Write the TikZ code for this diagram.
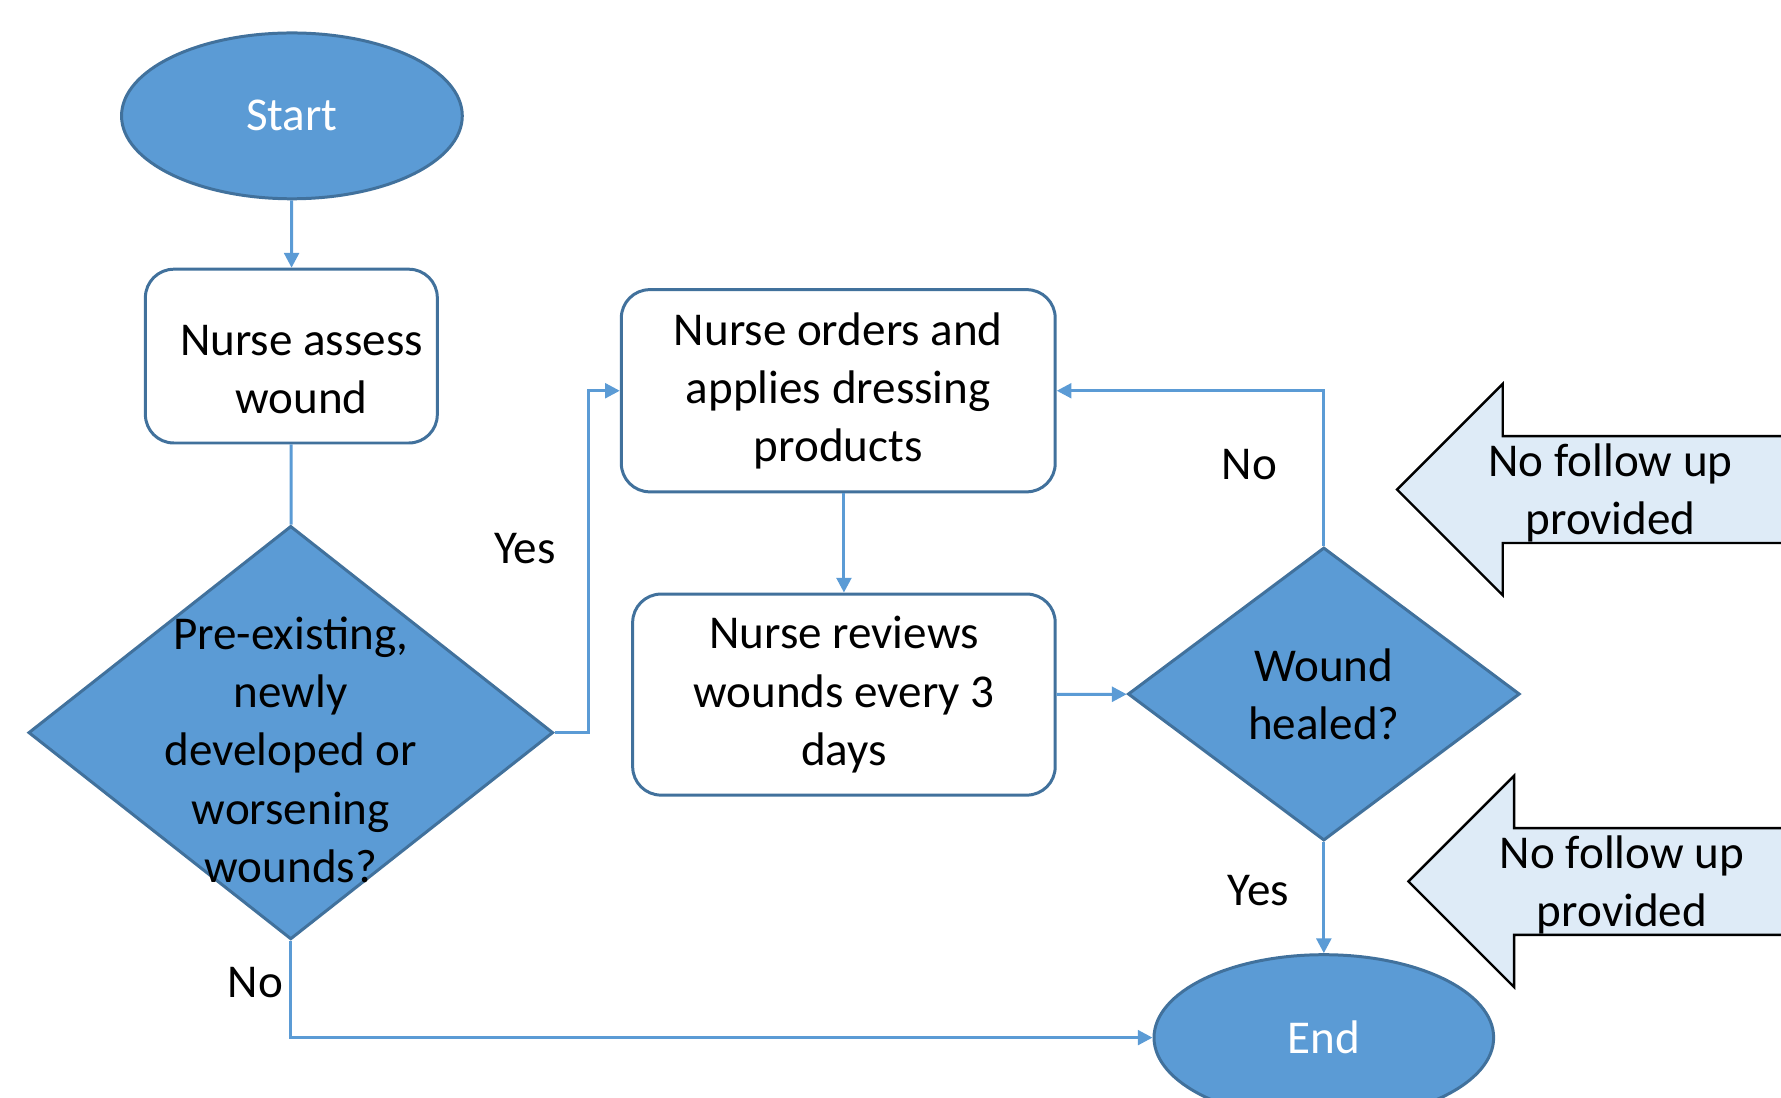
\documentclass[tikz,border=0pt]{standalone}
\usepackage{fontspec}
\setmainfont{Carlito}
\usetikzlibrary{arrows.meta,shapes.geometric}
\definecolor{flowblue}{HTML}{5B9BD5}
\definecolor{flowedge}{HTML}{41719C}
\definecolor{calloutfill}{HTML}{DEEBF7}

\begin{document}
\begin{tikzpicture}[
  font=\fontsize{11.8}{14.6}\selectfont, >={Triangle[length=1.3mm,width=1.3mm]},
  term/.style={ellipse, draw=flowedge, line width=0.75pt, fill=flowblue, text=white,
               minimum width=3cm, minimum height=1.46cm},
  proc/.style={draw=flowedge, line width=0.75pt, rounded corners=0.25cm, fill=white,
               align=center, inner sep=2pt},
  decide/.style={diamond, draw=flowedge, line width=0.75pt, fill=flowblue, align=center, inner sep=0pt},
  callout/.style={draw=black, line width=0.6pt, fill=calloutfill},
  plain/.style={align=center, inner sep=0pt},
  arr/.style={->, draw=flowblue, line width=0.75pt},
  link/.style={draw=flowblue, line width=0.75pt}]
  \useasboundingbox (0,0) rectangle (15.68,-9.66);
  \clip (0,0) rectangle (15.68,-9.66);
  \node[term] (start) at (2.57,-1.02) {Start};
  \node[proc, minimum width=2.57cm, minimum height=1.53cm,
        label={[plain, xshift=0.09cm, yshift=-1.2mm]center:{Nurse assess\\wound}}] (assess) at (2.565,-3.135) {};
  \node[decide, minimum width=4.62cm, minimum height=3.64cm,
        label={[plain, yshift=-1.5mm]center:{Pre-existing,\\newly\\developed or\\worsening\\wounds?}}] (dec1) at (2.56,-6.45) {};
  \node[proc, minimum width=3.82cm, minimum height=1.78cm] (orders) at (7.38,-3.44) {Nurse orders and\\applies dressing\\products};
  \node[proc, minimum width=3.72cm, minimum height=1.77cm] (reviews) at (7.43,-6.115) {Nurse reviews\\wounds every 3\\days};
  \node[decide, minimum width=3.45cm, minimum height=2.58cm] (dec2) at (11.655,-6.11) {Wound\\healed?};
  \node[term, minimum width=2.99cm] (end) at (11.655,-9.135) {End};
  % yes / no labels
  \node[plain] (yes1) at (4.62,-4.83) {Yes};
  \node[plain] (no1)  at (2.25,-8.65) {No};
  \node[plain] (no2)  at (11.00,-4.09) {No};
  \node[plain] (yes2) at (11.08,-7.84) {Yes};
  % side notes
  \foreach \n/\x/\y in {nofu1/12.30/-4.31, nofu2/12.40/-7.76} {
    \draw[callout] (\x,\y) -- ++(0.93,0.93) -- ++(0,-0.46) -- ++(3.60,0) -- ++(0,-0.94)
                   -- ++(-3.60,0) -- ++(0,-0.46) -- cycle;
    \node[plain] (\n) at (\x+1.88,\y-0.03) {No follow up\\provided};
  }
  \draw[arr] (start)--(assess);
  \draw[link] (assess)--(dec1);
  \draw[arr] (dec1.east) -- ++(0.30,0) |- (orders.west);
  \draw[arr] (reviews.north |- orders.south) -- (reviews.north);
  \draw[arr] (reviews)--(dec2);
  \draw[arr] (dec2.north) |- (orders.east);
  \draw[arr] (dec2)--(end);
  \draw[arr] (dec1.south) |- (end.west);
\end{tikzpicture}
\end{document}
